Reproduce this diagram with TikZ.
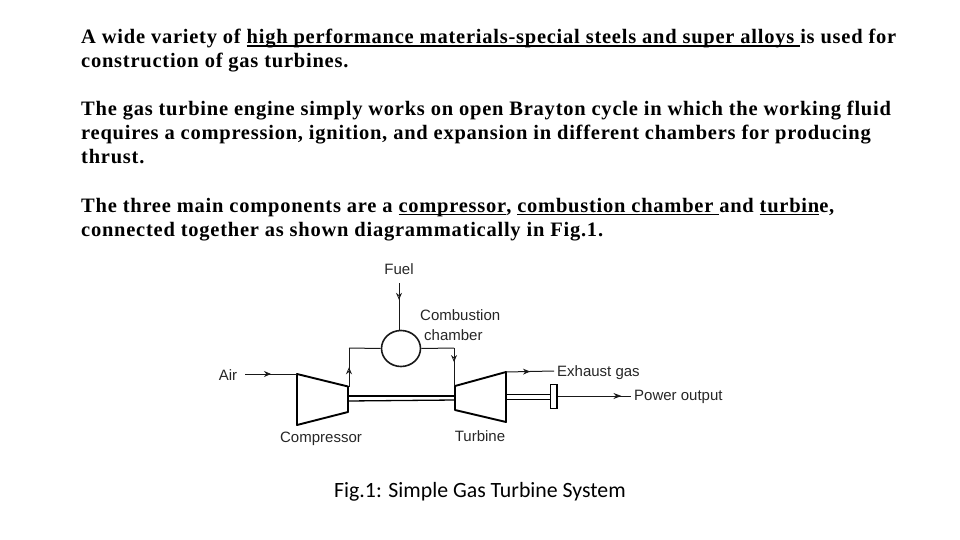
\documentclass[tikz,border=0pt]{standalone}
\usepackage{fontspec}
\setmainfont{Liberation Serif}[LetterSpace=3.7]
\newfontfamily\labelfont{Liberation Sans}
\newfontfamily\capfont{Carlito}
\usetikzlibrary{arrows.meta,decorations.markings,shapes.geometric}
\newcommand\ulx[1]{\setbox0\hbox{#1}\rlap{\rule[-3.2pt]{\wd0}{1.7pt}}\box0 }
\tikzset{
  x=1pt,y=-1pt,
  body/.style={anchor=base west,inner sep=0pt,font=\fontsize{20.5}{24}\selectfont\bfseries},
  lab/.style={inner sep=0pt,text=black!85,font=\labelfont\fontsize{15}{18}\selectfont},
  thin line/.style={line width=1pt,black!90},
  thick line/.style={line width=1.9pt,black},
  flow/.style args={at #1 dir #2}{postaction={decorate},decoration={markings,mark=at position #1 with {\arrow[line width=0.8pt]{#2}}}},
}
\begin{document}
\begin{tikzpicture}
\useasboundingbox (0,0) rectangle (960,540);
\node[body] (t1) at (81,44) {A wide variety of \ulx{high performance materials-special steels and super alloys }is used for};
\node[body] (t2) at (81,68) {construction of gas turbines.};
\node[body] (t3) at (81,116) {The gas turbine engine simply works on open Brayton cycle in which the working fluid};
\node[body] (t4) at (81,140) {requires a compression, ignition, and expansion in different chambers for producing};
\node[body] (t5) at (81,164) {thrust.};
\node[body] (t6) at (81,212) {The three main components are a \ulx{compressor}, \ulx{combustion chamber }and \ulx{turbin}e,};
\node[body] (t7) at (81,236) {connected together as shown diagrammatically in Fig.1.};
\node[lab] (fuel) at (399,269) {Fuel};
\node[lab,anchor=west] (comb) at (420,315) {Combustion};
\node[lab,anchor=west] (chamb) at (424,335) {chamber};
\node[lab] (air) at (228,375) {Air};
\node[lab,anchor=base west] (exh) at (557,376) {Exhaust gas};
\node[lab,anchor=base west] (pow) at (634,400) {Power output};
\node[lab,anchor=base] (compl) at (321,442) {Compressor};
\node[lab,anchor=base] (turbl) at (480,441) {Turbine};
\node[anchor=base west,inner sep=0pt,font=\capfont\fontsize{21.8}{24}\selectfont] (cap) at (334,497) {Fig.1: Simple Gas Turbine System};
\node[draw=black!90,line width=1.6pt,ellipse,minimum width=39pt,minimum height=36pt,inner sep=0pt] (cc) at (401,348.5) {};
% compressor and turbine
\coordinate (c1) at (297,374); \coordinate (c2) at (348,386.5);
\coordinate (c3) at (348,412); \coordinate (c4) at (297,425);
\coordinate (u1) at (455,386); \coordinate (u2) at (506,372);
\coordinate (u3) at (506,422); \coordinate (u4) at (455,410);
\draw[thick line,line join=round] (c1)--(c2)--(c3)--(c4)--cycle;
\draw[thick line,line join=round] (u1)--(u2)--(u3)--(u4)--cycle;
% flows
\coordinate (fs) at (399,283);
\coordinate (as) at (245,374);
\coordinate (ex) at (554,371);
\coordinate (pe) at (631,396);
\coordinate (lc) at (349,348); \coordinate (rc) at (454,348);
\draw[thin line,flow={at 0.36 dir {Stealth[length=7pt,width=6pt,open]}}] (fs) -- (cc.north -| fs);
\draw[thin line,flow={at 0.5 dir {Stealth[length=7pt,width=6pt]}}] (as) -- (c1);
\draw[thin line,flow={at 0.5 dir {Stealth[length=7pt,width=6pt,open]}}] (c2 -| lc) -- (lc);
\draw[thin line] (lc) -- (cc.west);
\draw[thin line] (cc.east) -- (rc);
\draw[thin line,flow={at 0.37 dir {Stealth[length=7pt,width=6pt,open]}}] (rc) -- (u1 -| rc);
\draw[thin line,flow={at 0.5 dir {Stealth[length=7pt,width=6pt]}}] (u2) -- (ex);
% shafts and disc
\node[draw=black,line width=1.5pt,fill=white,minimum width=6.5pt,minimum height=24pt,inner sep=0pt] (disc) at (553.5,396.5) {};
\coordinate (s1a) at (348,396); \coordinate (s1b) at (455,396);
\coordinate (s2a) at (348,401); \coordinate (s2b) at (455,400);
\coordinate (s3a) at (506,394.5); \coordinate (s4a) at (506,399.5);
\draw[line width=1.5pt,black] (s1a)--(s1b);
\draw[line width=1.3pt,black] (s2a)--(s2b);
\draw[line width=1.3pt,black] (s3a)--(s3a -| disc.west);
\draw[line width=1.3pt,black] (s4a)--(s4a -| disc.west);
\draw[thin line,flow={at 0.87 dir {Stealth[length=8pt,width=6pt]}}] (disc.east |- pe) -- (pe);
\end{tikzpicture}
\end{document}
